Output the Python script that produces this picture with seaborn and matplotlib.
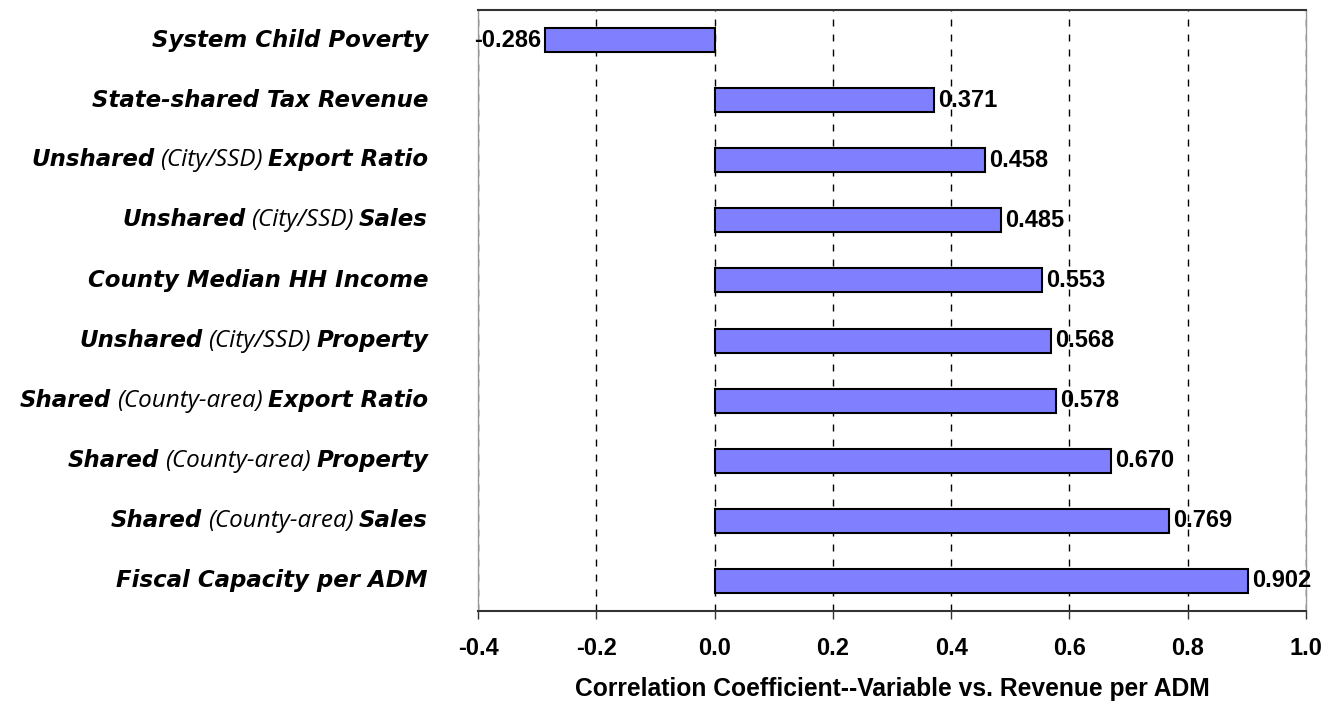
import matplotlib
matplotlib.use("Agg")
import matplotlib.pyplot as plt
import seaborn as sns
import pandas as pd
from matplotlib.offsetbox import TextArea, HPacker, AnnotationBbox

# ---- data ----
label_parts = [
    [("System Child Poverty", "b")],
    [("State-shared Tax Revenue", "b")],
    [("Unshared", "b"), ("(City/SSD)", "i"), ("Export Ratio", "b")],
    [("Unshared", "b"), ("(City/SSD)", "i"), ("Sales", "b")],
    [("County Median HH Income", "b")],
    [("Unshared", "b"), ("(City/SSD)", "i"), ("Property", "b")],
    [("Shared", "b"), ("(County-area)", "i"), ("Export Ratio", "b")],
    [("Shared", "b"), ("(County-area)", "i"), ("Property", "b")],
    [("Shared", "b"), ("(County-area)", "i"), ("Sales", "b")],
    [("Fiscal Capacity per ADM", "b")],
]
categories = [" ".join(p[0] for p in parts) for parts in label_parts]
values = [-0.286, 0.371, 0.458, 0.485, 0.553, 0.568, 0.578, 0.670, 0.769, 0.902]
x_ticks = [-0.4, -0.2, 0.0, 0.2, 0.4, 0.6, 0.8, 1.0]
x_label = "Correlation Coefficient--Variable vs. Revenue per ADM"

df = pd.DataFrame({"category": categories, "value": values})

sns.set_theme(style="white")
plt.rcParams["font.family"] = ["Liberation Sans", "DejaVu Sans"]
plt.rcParams["lines.scale_dashes"] = False

fig = plt.figure(figsize=(13.3, 7.08), dpi=100)
ax = fig.add_axes([478/1330, 1 - 611/708, (1306-478)/1330, (611-10)/708])

sns.barplot(data=df, y="category", x="value", order=categories, orient="h",
            color="#8080FF", saturation=1, edgecolor="black", linewidth=1.5,
            width=0.4, ax=ax, zorder=3)

ax.set_xlim(-0.4, 1.0)
ax.set_ylim(9.5, -0.5)
ax.set_xticks(x_ticks)
ax.set_xticklabels([f"{t:.1f}" for t in x_ticks], fontsize=17, fontweight="bold",
                   color="black")
ax.tick_params(axis="x", direction="out", length=6, width=1, color="#333333",
               pad=13, bottom=True)
ax.tick_params(axis="y", left=False, labelleft=False)
ax.set_ylabel("")
ax.set_xlabel(x_label, fontsize=17.7, fontweight="bold", color="black", labelpad=12)

for t in x_ticks:
    ax.axvline(t, color="black", linewidth=1, linestyle=(0, (5, 5.8)), zorder=1)

for side in ["left", "right"]:
    ax.spines[side].set_color("#999999")
    ax.spines[side].set_linewidth(1)
for side in ["top", "bottom"]:
    ax.spines[side].set_color("#333333")
    ax.spines[side].set_linewidth(1.5)

# value labels
for i, v in enumerate(values):
    if v >= 0:
        ax.annotate(f"{v:.3f}", (v, i), xytext=(3, 0), textcoords="offset points",
                    ha="left", va="center", fontsize=17, fontweight="bold",
                    color="black", zorder=5)
    else:
        ax.annotate(f"{v:.3f}", (v, i), xytext=(-3, 0), textcoords="offset points",
                    ha="right", va="center", fontsize=17, fontweight="bold",
                    color="black", zorder=5, annotation_clip=False)

# mixed-style category labels
trans = ax.get_yaxis_transform()
for i, parts in enumerate(label_parts):
    areas = []
    for txt, st in parts:
        if st == "b":
            props = dict(fontfamily="DejaVu Sans", fontweight="bold", fontstyle="italic",
                         fontsize=16.5, color="black")
        else:
            props = dict(fontfamily="Open Sans", fontweight="normal", fontstyle="italic",
                         fontsize=17.5, color="black")
        areas.append(TextArea(txt, textprops=props))
    box = HPacker(children=areas, sep=4, pad=0, align="baseline")
    ab = AnnotationBbox(box, (0, i), xycoords=trans, xybox=(-36, 0),
                        boxcoords="offset points", box_alignment=(1, 0.5),
                        frameon=False, pad=0, annotation_clip=False)
    ax.add_artist(ab)

fig.savefig("out.png", dpi=100)
